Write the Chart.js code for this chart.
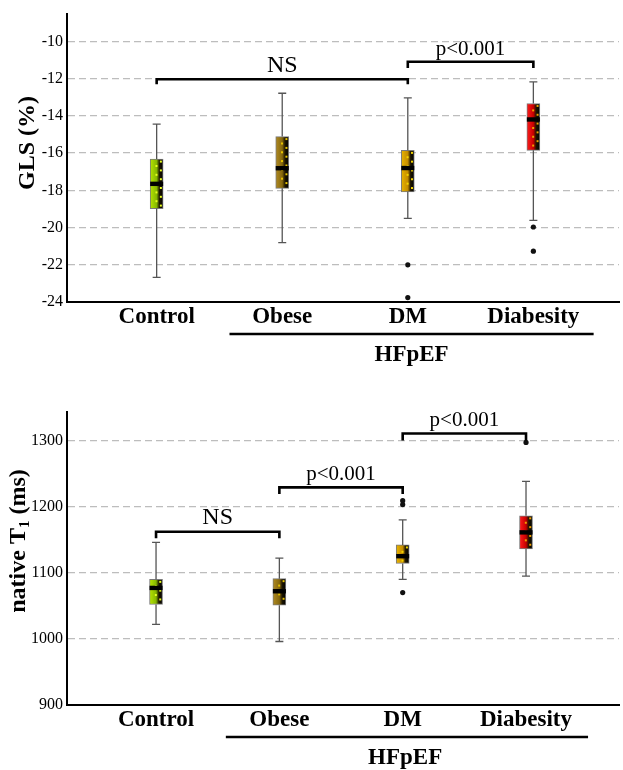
<!DOCTYPE html>
<html>
<head>
<meta charset="utf-8">
<script src="https://cdn.jsdelivr.net/npm/chart.js@4.4.1/dist/chart.umd.min.js"></script>
<style>
  body { margin: 0; background: #fff; }
  canvas { display: block; }
</style>
</head>
<body>
<canvas id="glsChart" width="623" height="380"></canvas>
<canvas id="t1Chart" width="623" height="390"></canvas>
<script>
const categories = ["Control", "Obese", "DM", "Diabesity"];

// GLS (%) box stats
const glsMin = [-22.68, -20.81, -19.51, -19.61];
const glsQ1 = [-18.98, -17.89, -18.08, -15.85];
const glsMedian = [-17.65, -16.81, -16.80, -14.19];
const glsQ3 = [-16.32, -15.11, -15.85, -13.33];
const glsMax = [-14.44, -12.78, -13.03, -12.17];
const glsOutliers = [[], [], [-22.0, -23.76], [-19.97, -21.27]];
const glsTicks = [-24, -22, -20, -18, -16, -14, -12, -10];

// native T1 (ms) box stats
const t1Min = [1022, 996, 1090, 1095];
const t1Q1 = [1052, 1051, 1114, 1136];
const t1Median = [1077, 1072, 1125, 1161];
const t1Q3 = [1090, 1091, 1142, 1186];
const t1Max = [1146, 1122, 1180, 1238];
const t1Outliers = [[], [], [1209, 1203, 1070], [1297]];
const t1Ticks = [900, 1000, 1100, 1200, 1300];

const boxLight = ["#b6e400", "#b08a22", "#e8b400", "#ff1c1c"];
const boxMid = ["#86b800", "#86680e", "#c48c00", "#c80000"];
const dotColors = ["#e8ff20", "#e8c400", "#f4d400", "#f0a000"];

const serif = "'Liberation Serif', 'Times New Roman', serif";

// significance brackets, in category / value units
const glsBrackets = [
  { from: 1, to: 3, y: -12.03, leg: -12.3, text: "NS", size: 24, base: -11.62 },
  { from: 3, to: 4, y: -11.09, leg: -11.42, text: "p<0.001", size: 21, base: -10.7 }
];
const t1Brackets = [
  { from: 1, to: 2, y: 1162, leg: 1152, text: "NS", size: 24, base: 1173.6 },
  { from: 2, to: 3, y: 1229, leg: 1219, text: "p<0.001", size: 21, base: 1240 },
  { from: 3, to: 4, y: 1310.6, leg: 1300, text: "p<0.001", size: 21, base: 1322 }
];

const boxPlot = {
  id: "boxPlot",
  afterDatasetsDraw(chart, args, opts) {
    const { ctx, scales: { x, y } } = chart;
    const meta = chart.getDatasetMeta(0);
    const st = opts.stats;
    ctx.save();
    st.median.forEach((m, i) => {
      const bar = meta.data[i];
      const cx = bar.x, half = bar.width / 2;
      const pTop = y.getPixelForValue(st.q3[i]);
      const pBot = y.getPixelForValue(st.q1[i]);
      const pMax = y.getPixelForValue(st.max[i]);
      const pMin = y.getPixelForValue(st.min[i]);

      // whiskers + caps
      ctx.strokeStyle = "#555";
      ctx.lineWidth = 1.3;
      ctx.beginPath();
      ctx.moveTo(cx, pTop); ctx.lineTo(cx, pMax);
      ctx.moveTo(cx, pBot); ctx.lineTo(cx, pMin);
      ctx.moveTo(cx - 4, pMax); ctx.lineTo(cx + 4, pMax);
      ctx.moveTo(cx - 4, pMin); ctx.lineTo(cx + 4, pMin);
      ctx.stroke();

      // dotted pattern
      ctx.fillStyle = dotColors[i];
      let k = 0;
      for (let py = pTop + 2.5; py < pBot - 2; py += 4.4) {
        const px = k % 2 === 0 ? cx + 4.2 : cx - 0.2;
        ctx.fillRect(px - 1, py - 1, 2, 2);
        k++;
      }

      // median
      ctx.fillStyle = "#000";
      const pMed = y.getPixelForValue(m);
      ctx.fillRect(cx - half, pMed - 2.2, half * 2, 4.4);
    });

    // brackets
    ctx.strokeStyle = "#000";
    ctx.lineWidth = 2.6;
    ctx.fillStyle = "#000";
    ctx.textAlign = "center";
    ctx.textBaseline = "alphabetic";
    opts.brackets.forEach(b => {
      const x1 = x.getPixelForValue(b.from), x2 = x.getPixelForValue(b.to);
      const py = y.getPixelForValue(b.y), pl = y.getPixelForValue(b.leg);
      ctx.beginPath();
      ctx.moveTo(x1, pl); ctx.lineTo(x1, py); ctx.lineTo(x2, py); ctx.lineTo(x2, pl);
      ctx.stroke();
      ctx.font = b.size + "px " + serif;
      ctx.fillText(b.text, (x1 + x2) / 2, y.getPixelForValue(b.base));
    });
    ctx.restore();
  },
  afterDraw(chart, args, opts) {
    const { ctx, chartArea, scales: { x } } = chart;
    ctx.save();
    // HFpEF group line and label
    const gx1 = x.getPixelForValue(opts.group[0]), gx2 = x.getPixelForValue(opts.group[1]);
    ctx.strokeStyle = "#000";
    ctx.lineWidth = 2.6;
    ctx.beginPath();
    ctx.moveTo(gx1, chartArea.bottom + 32);
    ctx.lineTo(gx2, chartArea.bottom + 32);
    ctx.stroke();
    ctx.fillStyle = "#000";
    ctx.font = "bold 23px " + serif;
    ctx.textAlign = "center";
    ctx.fillText("HFpEF", x.getPixelForValue(opts.group[2]), chartArea.bottom + 59);

    // y title with optional subscript
    ctx.translate(opts.title.x, opts.title.y);
    ctx.rotate(-Math.PI / 2);
    const parts = opts.title.parts;
    let total = 0;
    parts.forEach(p => {
      ctx.font = "bold " + p.size + "px " + serif;
      total += ctx.measureText(p.text).width;
    });
    let tx = -total / 2;
    ctx.textAlign = "left";
    ctx.textBaseline = "alphabetic";
    parts.forEach(p => {
      ctx.font = "bold " + p.size + "px " + serif;
      ctx.fillText(p.text, tx, p.dy || 0);
      tx += ctx.measureText(p.text).width;
    });
    ctx.restore();
  }
};

function makeBoxChart(id, s) {
  const boxData = categories.map((c, i) => ({ x: i + 1, y: [s.q1[i], s.q3[i]] }));
  const outlierData = [];
  s.outliers.forEach((arr, i) => arr.forEach(v => outlierData.push({ x: i + 1, y: v })));

  return new Chart(document.getElementById(id), {
    type: "bar",
    data: {
      datasets: [{
        data: boxData,
        barThickness: 13,
        borderWidth: 1,
        borderColor: "#7a7a7a",
        borderSkipped: false,
        backgroundColor: c => {
          const i = c.dataIndex;
          if (i === undefined) return "#888";
          const cx = c.chart.scales.x ? c.chart.scales.x.getPixelForValue(i + 1) : NaN;
          if (!isFinite(cx)) return boxMid[i];
          const g = c.chart.ctx.createLinearGradient(cx - 6.5, 0, cx + 6.5, 0);
          g.addColorStop(0, boxLight[i]);
          g.addColorStop(0.5, boxMid[i]);
          g.addColorStop(0.72, "#1c1500");
          g.addColorStop(1, "#000");
          return g;
        }
      }, {
        type: "scatter",
        data: outlierData,
        pointRadius: 2.6,
        pointBackgroundColor: "#111",
        pointBorderColor: "#111",
        pointBorderWidth: 0
      }]
    },
    options: {
      responsive: false,
      animation: false,
      layout: { padding: { top: s.padTop, right: 0, left: 0, bottom: 0 } },
      plugins: {
        legend: { display: false },
        tooltip: { enabled: false },
        boxPlot: {
          stats: s,
          brackets: s.brackets,
          group: s.group,
          title: s.title
        }
      },
      scales: {
        x: {
          type: "linear",
          offset: false,
          min: s.xMin,
          max: s.xMax,
          afterBuildTicks: sc => { sc.ticks = categories.map((c, i) => ({ value: i + 1 })); },
          afterFit: sc => { sc.height = s.xHeight; },
          grid: { display: false, drawTicks: false, offset: false },
          border: { display: true, color: "#000", width: 2 },
          ticks: {
            autoSkip: false,
            maxRotation: 0,
            padding: 1,
            color: "#000",
            font: { family: serif, size: 23, weight: "bold" },
            callback: (v, i) => categories[i]
          }
        },
        y: {
          min: s.yMin,
          max: s.yMax,
          afterBuildTicks: sc => { sc.ticks = s.ticks.map(v => ({ value: v })); },
          afterFit: sc => { sc.width = 67; },
          grid: { color: "#bdbdbd", lineWidth: 1.3, drawTicks: false },
          border: { display: true, color: "#000", width: 2, dash: [7, 4] },
          ticks: {
            padding: 4,
            color: "#000",
            font: { family: serif, size: 16 },
            callback: v => String(v)
          }
        }
      }
    },
    plugins: [boxPlot]
  });
}

makeBoxChart("glsChart", {
  min: glsMin, q1: glsQ1, median: glsMedian, q3: glsQ3, max: glsMax,
  outliers: glsOutliers, ticks: glsTicks, brackets: glsBrackets,
  yMin: -24, yMax: -8.5, xMin: 0.286, xMax: 4.682,
  padTop: 7, xHeight: 78,
  group: [1.58, 4.48, 3.03],
  title: { x: 34, y: 143, parts: [{ text: "GLS (%)", size: 24 }] }
});

makeBoxChart("t1Chart", {
  min: t1Min, q1: t1Q1, median: t1Median, q3: t1Q3, max: t1Max,
  outliers: t1Outliers, ticks: t1Ticks, brackets: t1Brackets,
  yMin: 900, yMax: 1343, xMin: 0.278, xMax: 4.754,
  padTop: 32, xHeight: 65,
  group: [1.566, 4.503, 3.02],
  title: { x: 24.5, y: 161, parts: [
    { text: "native T", size: 24 },
    { text: "1", size: 15, dy: 4 },
    { text: " (ms)", size: 24 }
  ] }
});
</script>
</body>
</html>
